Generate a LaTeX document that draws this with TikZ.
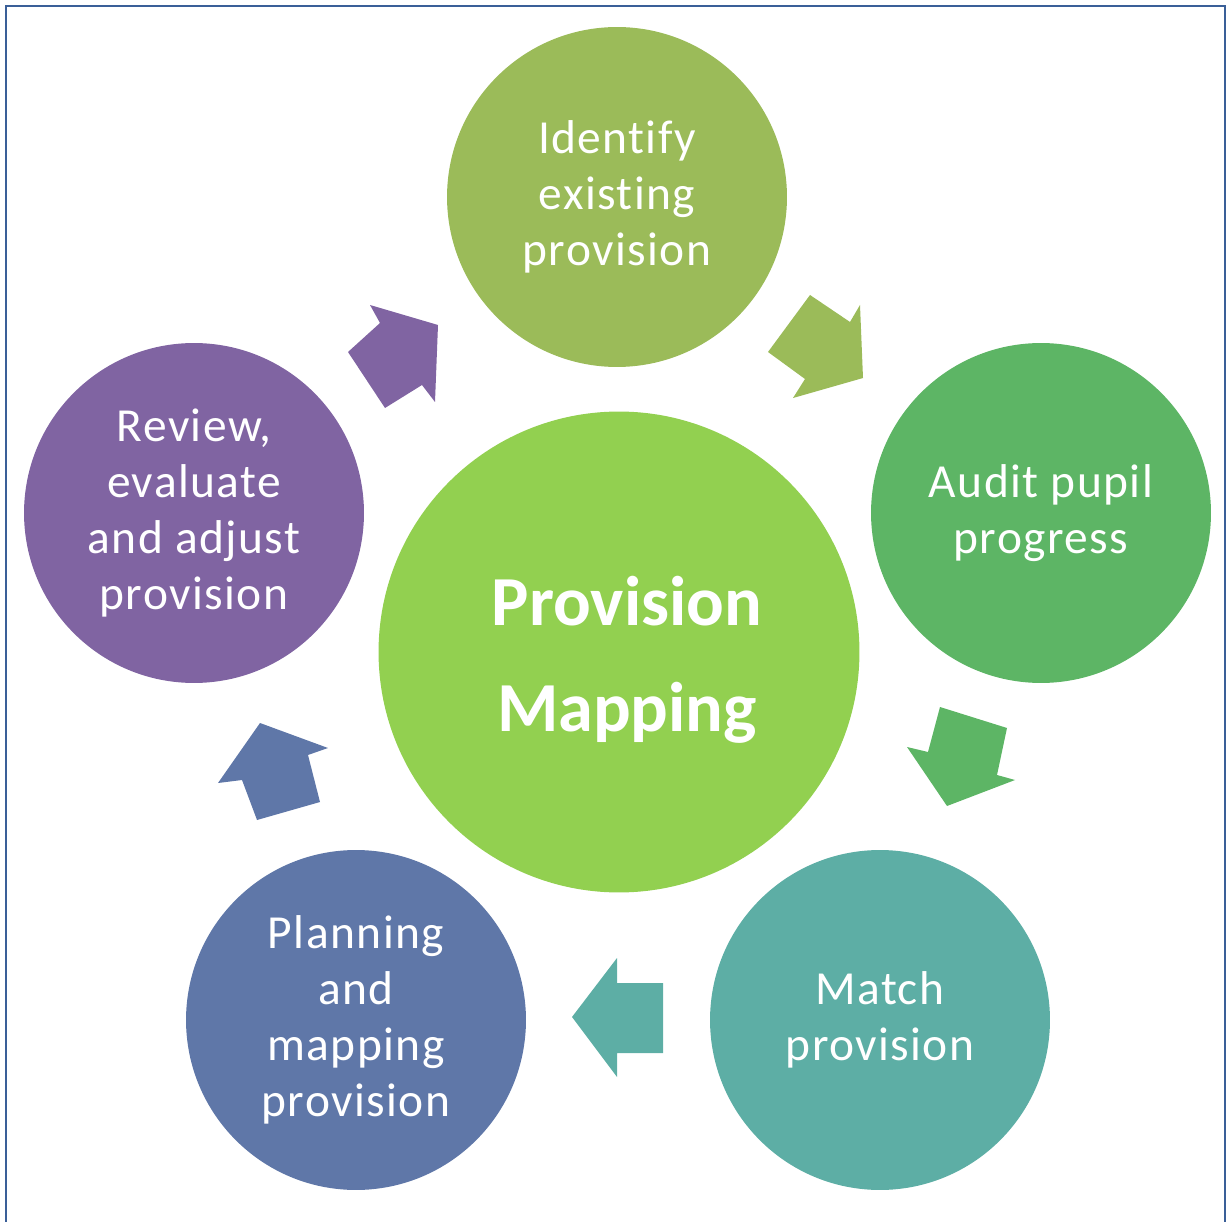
\documentclass[tikz,border=0pt]{standalone}
\usepackage{fontspec}
\setmainfont{Carlito}[Ligatures=NoCommon]
\newfontfamily\stagefont{Carlito}[LetterSpace=3, Ligatures=NoCommon]
\definecolor{IdentGreen}{HTML}{9BBB59}
\definecolor{AuditGreen}{HTML}{5DB565}
\definecolor{MatchTeal}{HTML}{5DAEA5}
\definecolor{PlanBlue}{HTML}{5F77A8}
\definecolor{ReviewPurple}{HTML}{8064A2}
\definecolor{CoreGreen}{HTML}{92D050}
\definecolor{FrameBlue}{HTML}{3A5F98}
\begin{document}
\begin{tikzpicture}[x=0.02cm, y=-0.02cm,
   stage/.style={circle, minimum size=6.8cm, inner sep=0pt, text=white,
      align=center, font=\stagefont\fontsize{27}{32}\selectfont}]
   \useasboundingbox (0,0) rectangle (1230,1222);
   % frame
   \draw[FrameBlue, line width=1.4pt] (6,1222) -- (6,6) -- (1225,6) -- (1225,1222);
   % centre
   \node[circle, fill=CoreGreen, minimum size=9.62cm, inner sep=0pt, text=white,
      align=center, font=\bfseries\fontsize{40}{60}\selectfont] (core) at (619,652) {};
   \node[text=white, align=center, font=\bfseries\fontsize{40}{60}\selectfont]
      (coretext) at (627,660) {Provision\\Mapping};
   % stages of the cycle
   \node[stage, fill=IdentGreen] (identify) at (617,197) {Identify\\existing\\provision};
   \node[stage, fill=AuditGreen] (audit) at (1041,513) {Audit pupil\\progress};
   \node[stage, fill=MatchTeal] (match) at (880,1020) {Match\\provision};
   \node[stage, fill=PlanBlue] (plan) at (356,1020) {Planning\\and\\mapping\\provision};
   \node[stage, fill=ReviewPurple] (review) at (194,513) {Review,\\evaluate\\and adjust\\provision};
   % block arrows between the stages
   \fill[IdentGreen] (810,295) -- (850,322) -- (860,305) -- (863,378) -- (793,398)
      -- (805,379) -- (768,352) -- cycle;
   \fill[AuditGreen] (940,707) -- (1007,728) -- (997,775) -- (1015,780) -- (947,806)
      -- (907,747) -- (928,752) -- cycle;
   \fill[MatchTeal] (663,983) -- (617,983) -- (617,958) -- (572,1017) -- (617,1077)
      -- (617,1053) -- (663,1053) -- cycle;
   \fill[PlanBlue] (260,723) -- (328,748) -- (308,755) -- (320,802) -- (257,820)
      -- (242,780) -- (218,783) -- cycle;
   \fill[ReviewPurple] (370,305) -- (438,325) -- (435,402) -- (422,385) -- (385,408)
      -- (348,352) -- (380,323) -- cycle;
\end{tikzpicture}
\end{document}
